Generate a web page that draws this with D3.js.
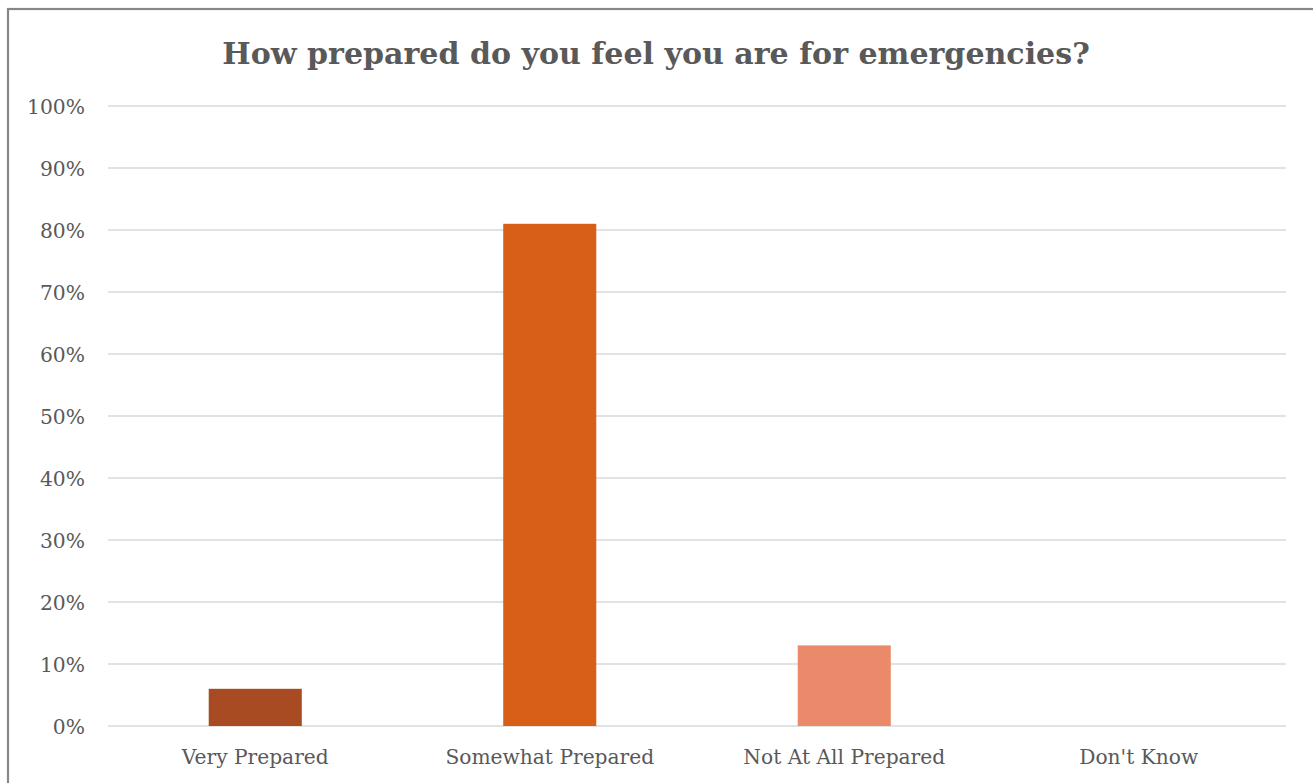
<!DOCTYPE html>
<html>
<head>
<meta charset="utf-8">
<script src="https://cdn.jsdelivr.net/npm/d3@7/dist/d3.min.js"></script>
<style>
  html, body { margin: 0; padding: 0; background: #fff; }
  svg { display: block; }
  text { font-family: "DejaVu Serif", "Liberation Serif", serif; fill: #595959; }
</style>
</head>
<body>
<svg id="chart" width="1313" height="783"></svg>
<script>
const title = "How prepared do you feel you are for emergencies?";
const categories = ["Very Prepared", "Somewhat Prepared", "Not At All Prepared", "Don't Know"];
const values = [0.06, 0.81, 0.13, 0.0];
const colors = ["#A94B22", "#D85F17", "#EA8A6B", "#E9A98F"];
const yTicks = [0, 0.1, 0.2, 0.3, 0.4, 0.5, 0.6, 0.7, 0.8, 0.9, 1.0];

const svg = d3.select("#chart");
const W = 1313, H = 783;
const plot = { left: 108, right: 1286, top: 106, bottom: 726 };
const FONT = '"DejaVu Serif", serif';

// fit a text selection's font size so a reference element reaches a target width
function fitSize(sel, refNode, target, start) {
  const w = refNode.getComputedTextLength();
  const s = start * target / w;
  sel.attr("font-size", s);
  return s;
}

// frame
svg.append("rect")
  .attr("x", 8).attr("y", 9).attr("width", W).attr("height", H)
  .attr("fill", "#fff").attr("stroke", "#878787").attr("stroke-width", 2.2);

const x = d3.scaleBand().domain(categories)
  .range([plot.left, plot.right])
  .paddingInner(0.684).paddingOuter(0.342);
const y = d3.scaleLinear().domain([0, 1]).range([plot.bottom, plot.top]);

// gridlines
svg.append("g").selectAll("line").data(yTicks).join("line")
  .attr("x1", plot.left).attr("x2", plot.right)
  .attr("y1", d => y(d)).attr("y2", d => y(d))
  .attr("stroke", "#D9D9D9").attr("stroke-width", 1.5);

// y axis labels
const yAxis = d3.axisLeft(y).tickValues(yTicks).tickFormat(d3.format(".0%")).tickSize(0).tickPadding(0);
const gy = svg.append("g").attr("transform", `translate(${plot.left - 23},0)`).call(yAxis);
gy.select(".domain").remove();
const yt = gy.selectAll("text").attr("font-size", 20).attr("fill", "#595959")
  .attr("font-family", FONT).attr("dy", "0.36em");
fitSize(yt, yt.filter(d => d === 1).node(), 58, 20);

// bars
svg.append("g").selectAll("rect").data(categories).join("rect")
  .attr("x", d => x(d))
  .attr("width", x.bandwidth())
  .attr("y", (d, i) => y(values[i]))
  .attr("height", (d, i) => y(0) - y(values[i]))
  .attr("fill", (d, i) => colors[i]);

// x axis labels
const xAxis = d3.axisBottom(x).tickSize(0).tickPadding(0);
const gx = svg.append("g").attr("transform", `translate(0,${plot.bottom + 24})`).call(xAxis);
gx.select(".domain").remove();
const xt = gx.selectAll("text").attr("font-size", 20).attr("fill", "#595959")
  .attr("font-family", FONT).attr("dy", "0.71em");
fitSize(xt, xt.filter(d => d === categories[0]).node(), 147, 20);

// title
const tt = svg.append("text")
  .attr("x", 656).attr("y", 64)
  .attr("text-anchor", "middle")
  .attr("font-size", 30).attr("font-weight", "bold")
  .attr("font-family", FONT)
  .text(title);
fitSize(tt, tt.node(), 868, 30);
</script>
</body>
</html>
